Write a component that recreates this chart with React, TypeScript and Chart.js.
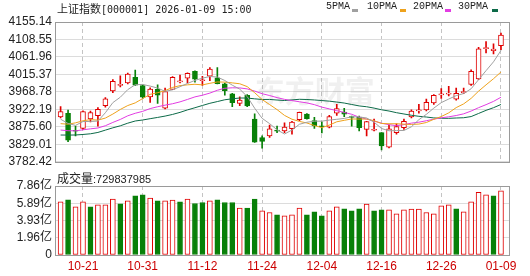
import React, { useEffect, useRef } from 'react';
import { Chart, registerables } from 'chart.js';

Chart.register(...registerables);

// ---- data ----
const dates = [
  '10-16', '10-17', '10-20', '10-21', '10-22', '10-23', '10-24', '10-27', '10-28', '10-29',
  '10-30', '10-31', '11-03', '11-04', '11-05', '11-06', '11-07', '11-10', '11-11', '11-12',
  '11-13', '11-14', '11-17', '11-18', '11-19', '11-20', '11-21', '11-24', '11-25', '11-26',
  '11-27', '11-28', '12-01', '12-02', '12-03', '12-04', '12-05', '12-08', '12-09', '12-10',
  '12-11', '12-12', '12-15', '12-16', '12-17', '12-18', '12-19', '12-22', '12-23', '12-24',
  '12-25', '12-26', '12-29', '12-30', '12-31', '01-05', '01-06', '01-07', '01-08', '01-09',
];
const opens = [
  3901.8, 3911.5, 3865.0, 3871.4, 3896.6, 3905.2, 3932.3, 3971.3, 3986.0, 3993.0,
  4007.8, 3985.9, 3955.7, 3975.5, 3925.3, 3975.5, 3995.5, 4005.2, 4023.4, 3998.5,
  4010.4, 4006.0, 3990.3, 3963.5, 3938.3, 3959.9, 3896.6, 3847.2, 3851.6, 3865.5,
  3864.6, 3870.6, 3894.8, 3909.6, 3892.2, 3877.0, 3875.0, 3912.2, 3914.9, 3901.8,
  3901.8, 3868.8, 3866.5, 3860.2, 3821.1, 3860.2, 3873.2, 3901.8, 3918.0, 3920.8,
  3939.1, 3961.0, 3963.0, 3949.5, 3967.0, 3988.5, 4003.4, 4084.0, 4078.8, 4091.9,
];
const highs = [
  3929.7, 3920.1, 3877.6, 3918.3, 3917.5, 3927.1, 3953.9, 4001.5, 4011.9, 4019.0,
  4026.8, 3987.7, 3979.9, 3987.7, 3979.1, 4009.3, 4013.8, 4019.8, 4025.0, 4010.4,
  4033.8, 4033.8, 3992.0, 3965.0, 3955.7, 3961.7, 3910.4, 3851.6, 3880.2, 3877.6,
  3886.2, 3890.0, 3914.9, 3911.0, 3901.1, 3888.8, 3906.3, 3935.7, 3925.3, 3904.0,
  3904.5, 3890.6, 3896.6, 3860.2, 3880.2, 3883.6, 3896.6, 3920.8, 3935.7, 3949.5,
  3961.7, 3977.3, 3983.3, 3979.1, 3979.1, 4027.6, 4087.4, 4103.1, 4097.1, 4125.7,
];
const lows = [
  3899.2, 3836.0, 3851.6, 3869.0, 3888.8, 3877.6, 3927.9, 3966.9, 3981.8, 3990.3,
  3986.0, 3951.3, 3940.9, 3938.3, 3923.4, 3974.7, 3993.0, 3993.0, 3994.8, 3985.9,
  3999.0, 3990.3, 3959.9, 3929.7, 3932.3, 3929.7, 3834.2, 3818.6, 3847.2, 3860.0,
  3860.0, 3855.8, 3892.2, 3896.0, 3871.4, 3859.4, 3873.0, 3906.3, 3902.6, 3877.6,
  3864.6, 3851.6, 3864.6, 3814.1, 3819.3, 3855.8, 3868.8, 3899.2, 3912.2, 3918.2,
  3935.7, 3951.3, 3958.3, 3946.9, 3964.3, 3985.9, 4001.5, 4072.9, 4070.3, 4081.5,
];
const closes = [
  3916.2, 3839.8, 3863.9, 3916.3, 3913.8, 3922.4, 3950.3, 3996.9, 3988.2, 4016.3,
  3986.9, 3954.8, 3976.5, 3960.2, 3969.3, 4007.8, 3997.6, 4018.6, 4002.8, 4000.1,
  4029.5, 3990.5, 3972.0, 3939.8, 3946.7, 3931.1, 3834.9, 3836.8, 3870.0, 3864.2,
  3875.3, 3888.6, 3914.0, 3897.7, 3878.0, 3875.8, 3902.8, 3924.1, 3909.5, 3900.5,
  3873.3, 3889.4, 3867.9, 3824.8, 3870.3, 3876.4, 3890.5, 3917.4, 3920.0, 3941.0,
  3959.6, 3963.7, 3965.3, 3965.1, 3968.8, 4023.4, 4083.7, 4085.8, 4083.0, 4120.4,
];
const prevClose = 3912.2;
// volume, in 亿
const volumes = [
  6.06, 6.29, 5.49, 6.06, 5.49, 5.72, 5.72, 6.37, 5.83, 6.18,
  6.75, 6.86, 6.49, 6.18, 6.18, 6.26, 6.06, 6.37, 5.87, 5.98,
  6.18, 6.29, 5.98, 5.98, 5.34, 5.34, 6.37, 5.03, 4.84, 4.58,
  4.46, 4.58, 5.34, 4.58, 4.92, 4.46, 5.03, 5.49, 5.26, 5.03,
  5.26, 5.80, 5.03, 5.15, 5.15, 4.69, 5.15, 5.23, 5.23, 4.84,
  4.69, 5.61, 5.72, 5.26, 4.92, 6.06, 7.13, 6.86, 6.75, 7.30,
];
const ma5 = [
  3896.0, 3884.6, 3879.5, 3889.7, 3890.0, 3891.1, 3913.3, 3940.2, 3954.6, 3974.9,
  3987.9, 3988.7, 3984.3, 3979.0, 3970.2, 3974.3, 3982.7, 3991.3, 3999.5, 4005.4,
  4009.8, 4008.4, 3999.2, 3986.7, 3976.1, 3956.4, 3925.3, 3898.3, 3884.2, 3867.7,
  3856.5, 3867.1, 3882.5, 3887.9, 3890.7, 3890.8, 3893.6, 3895.7, 3898.0, 3902.5,
  3902.0, 3899.3, 3888.1, 3871.2, 3865.1, 3865.7, 3865.9, 3875.8, 3894.7, 3908.9,
  3925.5, 3940.2, 3949.8, 3958.8, 3964.4, 3977.2, 4001.3, 4025.4, 4049.0, 4079.3,
];
const ma10 = [
  3884.1, 3882.7, 3886.3, 3891.7, 3894.8, 3893.6, 3899.0, 3909.7, 3922.0, 3932.4,
  3939.5, 3951.0, 3962.3, 3966.6, 3972.2, 3980.7, 3985.5, 3987.6, 3989.1, 3987.5,
  3991.7, 3995.3, 3994.8, 3992.8, 3990.5, 3982.9, 3966.6, 3948.4, 3935.1, 3921.6,
  3906.1, 3895.9, 3890.1, 3885.9, 3879.1, 3873.5, 3880.3, 3889.1, 3893.0, 3896.6,
  3896.4, 3896.5, 3891.9, 3884.6, 3883.8, 3883.9, 3882.7, 3882.0, 3883.0, 3887.1,
  3895.7, 3903.1, 3912.9, 3926.9, 3936.8, 3951.5, 3970.8, 3987.6, 4003.9, 4021.9,
];
const ma20 = [
  3867.1, 3865.3, 3865.0, 3867.7, 3870.3, 3872.6, 3878.6, 3887.4, 3895.4, 3905.1,
  3911.8, 3916.9, 3924.3, 3929.2, 3933.5, 3937.2, 3942.2, 3948.7, 3955.5, 3959.9,
  3965.6, 3973.1, 3978.5, 3979.7, 3979.4, 3976.8, 3971.0, 3964.0, 3959.1, 3953.5,
  3948.9, 3945.6, 3942.5, 3939.4, 3934.8, 3928.2, 3923.5, 3918.7, 3914.1, 3909.1,
  3901.3, 3896.2, 3891.0, 3885.3, 3881.4, 3878.7, 3881.5, 3885.5, 3888.0, 3891.9,
  3896.1, 3899.8, 3902.4, 3905.8, 3910.3, 3917.7, 3926.7, 3934.8, 3943.5, 3954.5,
];
const ma30 = [
  3853.8, 3853.7, 3853.9, 3855.3, 3857.1, 3860.7, 3866.9, 3873.0, 3878.4, 3885.4,
  3891.2, 3893.9, 3897.4, 3900.7, 3904.3, 3908.7, 3914.2, 3920.8, 3926.6, 3932.6,
  3938.4, 3943.0, 3947.8, 3950.4, 3952.5, 3952.4, 3950.3, 3948.6, 3948.7, 3947.1,
  3945.8, 3947.4, 3949.1, 3948.5, 3947.3, 3945.7, 3944.1, 3941.7, 3939.1, 3935.2,
  3931.4, 3929.2, 3925.6, 3921.1, 3917.8, 3913.4, 3909.9, 3906.5, 3903.7, 3901.8,
  3899.4, 3898.5, 3898.3, 3899.2, 3899.9, 3903.0, 3911.3, 3919.6, 3926.7, 3935.2,
];
const priceTicks = [3782.42, 3829.01, 3875.6, 3922.19, 3968.78, 4015.37, 4061.96, 4108.55, 4155.14];
const volTicks = [0, 1.965, 3.93, 5.895, 7.86];
const volTickLabels = ['0', '1.96亿', '3.93亿', '5.89亿', '7.86亿'];
const xTickDates = ['10-21', '10-31', '11-12', '11-24', '12-04', '12-16', '12-26', '01-09'];
const maNames = ['5PMA', '10PMA', '20PMA', '30PMA'];
const titleName = '上证指数';
const titleCode = '[000001] 2026-01-09 15:00';
const volTitle = '成交量';
const volValue = ':729837985';

// ---- styles ----
const RED = '#e00000';
const GREEN = '#088008';
const MA_COLORS = ['#a0a0a0', '#eea21c', '#e23ce2', '#0c6a48'];
const GRID_H = '#dcdcdc';
const GRID_V = '#c4c4c4';
const FRAME = '#9a9a9a';
const LABEL_FONT = '"Liberation Sans", "Noto Sans CJK SC", sans-serif';

const maSeries = [ma5, ma10, ma20, ma30];
const xTickIdx = xTickDates.map((d) => dates.indexOf(d));
const candleUp = closes.map((c, i) => c >= opens[i]);
const volUp = closes.map((c, i) => c >= (i === 0 ? prevClose : closes[i - 1]));

const framePlugin = {
  id: 'frame',
  afterDatasetsDraw(chart: any) {
    const { ctx, chartArea: a } = chart;
    ctx.save();
    ctx.strokeStyle = FRAME;
    ctx.lineWidth = 1;
    const l = Math.round(a.left) + 0.5;
    const t = Math.round(a.top) + 0.5;
    const r = Math.round(a.right) + 0.5;
    const b = Math.round(a.bottom) + 0.5;
    ctx.strokeRect(l, t, r - l, b - t);
    ctx.restore();
  },
};

const watermarkPlugin = {
  id: 'watermark',
  beforeDatasetsDraw(chart: any) {
    const { ctx, chartArea: a } = chart;
    ctx.save();
    ctx.fillStyle = 'rgba(120,120,120,0.11)';
    ctx.font = 'bold 30px "Noto Sans CJK SC"';
    ctx.textBaseline = 'alphabetic';
    ctx.textAlign = 'left';
    const cx = a.left + (a.right - a.left) * 0.44;
    const cy = a.top + (a.bottom - a.top) * 0.57;
    ctx.fillText('东方财富', cx, cy);
    ctx.restore();
  },
};

function xScale(showLabels: boolean): any {
  return {
    type: 'linear',
    min: -0.75,
    max: 60.075,
    offset: false,
    afterBuildTicks: (s: any) => {
      s.ticks = xTickIdx.map((v) => ({ value: v }));
    },
    afterFit: (s: any) => {
      s.height = showLabels ? 21 : 0;
    },
    grid: { color: GRID_V, lineWidth: 1, drawTicks: false, offset: false },
    border: { display: false, dash: [4, 3] },
    ticks: {
      display: showLabels,
      autoSkip: false,
      maxRotation: 0,
      minRotation: 0,
      padding: 4,
      color: '#cc0000',
      font: { family: LABEL_FONT, size: 12 },
      callback: (v: any) => dates[Number(v)] ?? '',
    },
  };
}

function MainChart() {
  const ref = useRef<HTMLCanvasElement>(null);
  useEffect(() => {
    if (!ref.current) return;
    const chart = new Chart(ref.current, {
      type: 'bar',
      data: {
        datasets: [
          ...maSeries.map((arr, k) => ({
            type: 'line' as const,
            label: maNames[k],
            data: arr.map((v, i) => ({ x: i, y: v })),
            borderColor: MA_COLORS[k],
            borderWidth: 1,
            pointRadius: 0,
            tension: 0,
            order: 0,
          })),
          {
            type: 'bar' as const,
            label: 'body',
            data: opens.map((o, i) => ({ x: i, y: [o, closes[i]] })),
            backgroundColor: candleUp.map((u) => (u ? '#ffffff' : GREEN)),
            borderColor: candleUp.map((u) => (u ? RED : GREEN)),
            borderWidth: 1,
            borderSkipped: false,
            barThickness: 5,
            minBarLength: 1,
            grouped: false,
            order: 1,
          },
          {
            type: 'bar' as const,
            label: 'wick',
            data: lows.map((l, i) => ({ x: i, y: [l, highs[i]] })),
            backgroundColor: candleUp.map((u) => (u ? RED : GREEN)),
            borderWidth: 0,
            barThickness: 1,
            grouped: false,
            order: 2,
          },
        ] as any,
      },
      options: {
        responsive: false,
        animation: false,
        devicePixelRatio: 1,
        layout: { padding: { left: 0, right: 21, top: 22, bottom: 7 } },
        plugins: { legend: { display: false }, tooltip: { enabled: false } },
        scales: {
          x: xScale(false),
          y: {
            type: 'linear',
            beginAtZero: false,
            min: priceTicks[0],
            max: priceTicks[priceTicks.length - 1],
            afterBuildTicks: (s: any) => {
              s.ticks = priceTicks.map((v) => ({ value: v }));
            },
            afterFit: (s: any) => {
              s.width = 55;
            },
            grid: { color: GRID_H, lineWidth: 1, drawTicks: false },
            border: { display: false },
            ticks: {
              autoSkip: false,
              padding: 3,
              color: '#222',
              font: { family: LABEL_FONT, size: 12 },
              callback: (v: any) => Number(v).toFixed(2),
            },
          },
        } as any,
      },
      plugins: [framePlugin, watermarkPlugin],
    });
    return () => chart.destroy();
  }, []);
  return (
    <canvas
      ref={ref}
      width={530}
      height={172}
      style={{ position: 'absolute', left: 0, top: 0, width: 530, height: 172 }}
    />
  );
}

function VolumeChart() {
  const ref = useRef<HTMLCanvasElement>(null);
  useEffect(() => {
    if (!ref.current) return;
    const chart = new Chart(ref.current, {
      type: 'bar',
      data: {
        datasets: [
          {
            label: 'volume',
            data: volumes.map((v, i) => ({ x: i, y: v })),
            backgroundColor: volUp.map((u) => (u ? '#ffffff' : GREEN)),
            borderColor: volUp.map((u) => (u ? RED : GREEN)),
            borderWidth: 1,
            borderSkipped: false,
            barThickness: 5,
            grouped: false,
          },
        ] as any,
      },
      options: {
        responsive: false,
        animation: false,
        devicePixelRatio: 1,
        layout: { padding: { left: 0, right: 21, top: 16, bottom: 0 } },
        plugins: { legend: { display: false }, tooltip: { enabled: false } },
        scales: {
          x: xScale(true),
          y: {
            type: 'linear',
            min: volTicks[0],
            max: volTicks[volTicks.length - 1],
            afterBuildTicks: (s: any) => {
              s.ticks = volTicks.map((v) => ({ value: v }));
            },
            afterFit: (s: any) => {
              s.width = 55;
            },
            grid: { color: GRID_H, lineWidth: 1, drawTicks: false },
            border: { display: false },
            ticks: {
              autoSkip: false,
              padding: 3,
              color: '#222',
              font: { family: LABEL_FONT, size: 12 },
              callback: (_v: any, idx: number) => volTickLabels[idx],
            },
          },
        } as any,
      },
      plugins: [framePlugin],
    });
    return () => chart.destroy();
  }, []);
  return (
    <canvas
      ref={ref}
      width={530}
      height={106}
      style={{ position: 'absolute', left: 0, top: 170, width: 530, height: 106 }}
    />
  );
}

const legendLeft = [326, 367, 413, 458];
const swatchLeft = [352, 400, 445, 492];

export default function App() {
  return (
    <div
      style={{
        position: 'fixed',
        left: 0,
        top: 0,
        width: 530,
        height: 276,
        background: '#ffffff',
        overflow: 'hidden',
      }}
    >
      <MainChart />
      <VolumeChart />
      <div
        style={{
          position: 'absolute',
          left: 57,
          top: 1,
          height: 14,
          lineHeight: '14px',
          whiteSpace: 'nowrap',
          color: '#222',
        }}
      >
        <span style={{ font: '11px "Noto Sans CJK SC"', lineHeight: '14px' }}>{titleName}</span>
        <span style={{ font: '10px "DejaVu Sans Mono"', lineHeight: '14px' }}>{titleCode}</span>
      </div>
      {maNames.map((n, k) => (
        <React.Fragment key={n}>
          <div
            style={{
              position: 'absolute',
              left: legendLeft[k],
              top: 1,
              lineHeight: '14px',
              font: '10px "Liberation Mono"',
              color: '#222',
              whiteSpace: 'nowrap',
            }}
          >
            {n}
          </div>
          <div
            style={{
              position: 'absolute',
              left: swatchLeft[k],
              top: 9,
              width: 6,
              height: 3,
              background: MA_COLORS[k],
            }}
          />
        </React.Fragment>
      ))}
      <div
        style={{
          position: 'absolute',
          left: 57,
          top: 171,
          lineHeight: '14px',
          whiteSpace: 'nowrap',
          color: '#222',
        }}
      >
        <span style={{ font: '12px "Noto Sans CJK SC"', lineHeight: '14px' }}>{volTitle}</span>
        <span style={{ font: '11px "Liberation Sans"', lineHeight: '14px' }}>{volValue}</span>
      </div>
    </div>
  );
}
